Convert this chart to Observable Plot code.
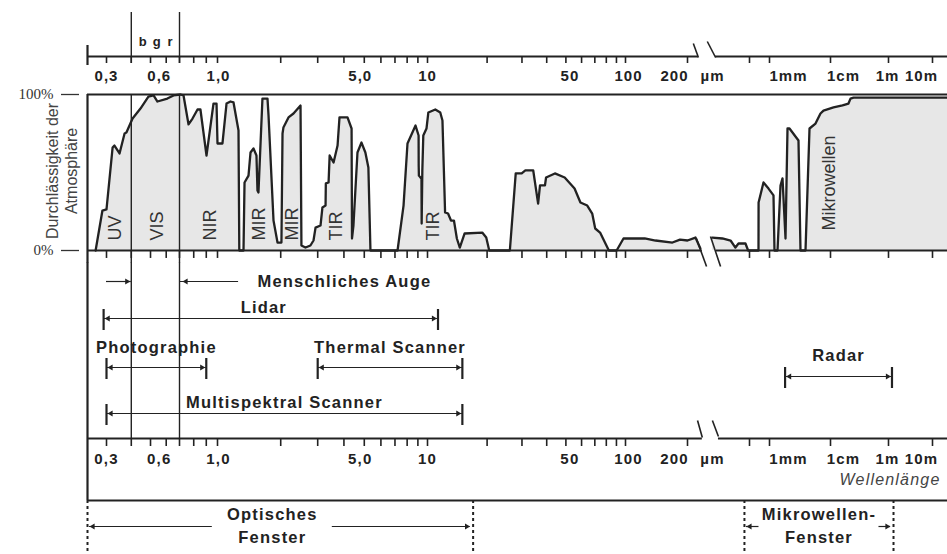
<!DOCTYPE html>
<html><head><meta charset="utf-8">
<script src="https://cdn.jsdelivr.net/npm/d3@7"></script>
<script src="https://cdn.jsdelivr.net/npm/@observablehq/plot@0.6"></script>
<style>
body{margin:0;background:#fff;}
#chart{width:947px;height:554px;overflow:hidden;}
#chart svg{display:block;overflow:visible;}
</style></head><body><div id="chart"></div>
<script>
// ---------- data ----------
const axisTicks = [0.3,0.4,0.5,0.6,0.7,0.8,0.9,1,2,3,4,5,6,7,8,9,10,20,30,40,50,60,70,80,90,100,200,500,1000,1e4,1e6,1e7];
const axisLabels = ["0,3","0,6","1,0","5,0","10","50","100","200","1mm","1cm","1m","10m"];
const axisLabelValues = [0.3,0.6,1,5,10,50,100,200,1000,1e4,1e6,1e7];
const colorBands = ["b","g","r"];
const colorBandCenters = [0.46,0.54,0.63];
const visibleEdges = [0.4,0.7];
const curveWavelength = [0.264,0.286,0.300,0.322,0.329,0.349,0.370,0.378,0.406,0.445,0.488,0.518,0.542,0.608,0.653,0.707,0.727,0.762,0.791,0.829,0.852,0.902,0.963,0.991,1.0,1.056,1.104,1.153,1.192,1.259,1.27,1.33,1.345,1.405,1.436,1.484,1.533,1.550,1.567,1.637,1.730,1.75,1.848,1.931,2.016,2.04,2.06,2.178,2.301,2.485,2.51,2.624,2.77,2.865,2.93,3.094,3.16,3.27,3.28,3.38,3.42,3.57,3.73,3.81,4.16,4.35,4.37,4.44,4.64,4.85,5.06,5.23,5.35,7.20,7.69,8.03,8.77,9.07,9.08,9.1,9.36,9.38,9.45,9.55,9.89,10.1,10.95,11.6,11.9,12.27,12.7,13.14,13.6,14.07,14.56,15.4,18.9,19.8,20.5,26.06,27.9,29.9,31.2,34.2,36.2,37.0,39.2,39.7,44.0,49.3,55.3,59.2,64.1,67.9,70.3,74.4,82.4,90.2,97.7,124,139.8,169,184,200,225,242,260,289,335,378,406,425,471,490,683,685,812,967,1163,1207,1353,1515,1634,1830,1973,2127,2987,3221,3893,4529,5680,6850,7680,12690,25900,41700,48900,62200,2.2e7];
const curveTransmission = [0,25.6,26.3,66,67.3,62.2,75,75.6,84.6,91,98.7,99.4,95.5,97.4,99.4,100,99.4,80.8,84.6,90.4,90.4,60.9,94.2,94.2,68.6,68.6,94.2,95.5,94.9,76.9,0,0,43.6,48,62.8,65.4,60.9,38.5,37.2,97.4,97.4,86.5,19.2,5.1,5.1,75,78.8,85.3,87.8,92.9,3.2,1.9,3.2,6.4,14.7,16,27.6,28.8,43,43.6,60.9,56.4,67.3,85.3,85.3,78.2,7.7,16,62.8,69.2,62.8,53.2,0,0,28.8,68.6,80.1,73.7,54.5,48,46,17.3,51.3,73.7,78.2,88.5,90.4,88.5,83.3,24.4,23.7,19.2,19.2,7.7,1.9,10.9,11.5,8.3,0,0,49.4,49.4,51.3,51.3,30.1,41.7,41.7,46.8,49.4,46.8,39.7,30.8,28.8,23.7,14.1,11.5,0,0,7.7,7.7,6.4,5.1,7,6.4,8.3,1.3,null,8.3,7.7,6.4,1.9,4.5,4.5,0,0,30.8,43.6,39.7,35.3,0,0,41.7,46.2,7.7,78.2,78.2,70.5,0,0,78.2,81.4,87.8,89.7,91.7,93,94.2,97.4,98,98];
const regionLabels = ["UV","VIS","NIR","MIR","MIR","TIR","TIR","Mikrowellen"];
const regionCenters = [0.332,0.542,0.93,1.585,2.27,3.68,10.7,9630];
const instruments = ["Menschliches Auge","Lidar","Photographie","Thermal Scanner","Multispektral Scanner","Radar"];
const instrumentFrom = [0.4,0.29,0.3,3.0,0.3,1800];
const instrumentTo = [0.7,11.3,0.9,15,15,1.2e6];
const windowNames = [["Optisches","Fenster"],["Mikrowellen-","Fenster"]];
const windowFrom = [0.24,464];
const windowTo = [17,1.3e6];

// ---------- scale & layout ----------
const XD = [0.24,0.3,0.7,1,10,100,200,500,1000,1e4,1e6,1e7,2.2e7];
const XR = [87,106,179,217,427,625,687,749,769,830,888,932,947];
const xs = d3.scaleLog().domain(XD).range(XR);
const X = {type:"log", domain: XD, range: XR, axis: null};
const W = 947, INK = "#222", FONT = "'Liberation Sans', Arial, sans-serif";
const xMin = XD[0], xMax = XD[XD.length-1];
const labelShift = {"0,3":0,"0,6":-7,"1,0":1,"5,0":-4,"10":0,"50":4,"100":3,"200":-13,"1mm":19,"1cm":13,"1m":-1,"10m":-11};
const LABEL_SIZE = 16.5;

function layoutPanel(height, marks, extraStyle = {}) {
  return Plot.plot({width: W, height, marginTop:0, marginRight:0, marginBottom:0, marginLeft:0,
    x: X, y: {domain:[0,height], range:[0,height], axis:null},
    style: {fontFamily: FONT, background:"transparent", overflow:"visible", color: INK, ...extraStyle}, marks});
}
function axisLabelMarks(y) {
  return [
    ...axisLabels.map((s,i) => Plot.text([s], {x: axisLabelValues[i], y, dx: labelShift[s], text: d=>d, fontWeight:"bold", fontSize:15, fill: INK})),
    Plot.text(["µm"], {x: 200, y, dx: 25, text: d=>d, fontWeight:"bold", fontSize:15, fill: INK})
  ];
}
const R = 2.2, TIP = 3.4;
function headLeft(x, y, dx = 0) { return Plot.dot([x], {x: d=>d, y, symbol:"triangle", r:R, rotate:-90, dx: TIP + dx, fill: INK, stroke: null}); }
function headRight(x, y, dx = 0) { return Plot.dot([x], {x: d=>d, y, symbol:"triangle", r:R, rotate:90, dx: -TIP + dx, fill: INK, stroke: null}); }

const chart = document.getElementById("chart");

// ---------- panel 1 : top wavelength axis ----------
const p1 = layoutPanel(90, [
  Plot.ruleX(visibleEdges, {x: d=>d, y1: 12, y2: 63, stroke: INK, strokeWidth: 1.4}),
  Plot.text(colorBands, {x: (d,i)=>colorBandCenters[i], y: 41, text: d=>d, fontWeight:"bold", fontSize: 13, fill: INK}),
  Plot.ruleY([56], {x1: xMin, x2: 235, stroke: INK, strokeWidth: 2}),
  Plot.ruleY([56], {x1: 303, x2: xMax, stroke: INK, strokeWidth: 2}),
  Plot.link([0], {x1: 218, y1: 43, x2: 235, y2: 57, stroke: INK, strokeWidth: 1.6}),
  Plot.link([0], {x1: 268, y1: 41, x2: 303, y2: 57, stroke: INK, strokeWidth: 1.6}),
  Plot.ruleX(axisTicks, {x: d=>d, y1: 56, y2: 63, stroke: INK, strokeWidth: 1.6}),
  Plot.ruleX([xMin], {x: d=>d, y1: 45, y2: 65, stroke: INK, strokeWidth: 2.2}),
  ...axisLabelMarks(76)
], {letterSpacing: "1px"});
chart.appendChild(p1);

// ---------- panel 2 : atmospheric transmission ----------
const curve = curveWavelength.map((l,i) => ({l, t: curveTransmission[i]}));
const regions = regionLabels.map((name,i) => ({name, l: regionCenters[i]}));
const p2 = Plot.plot({width: W, height: 172, marginTop: 4, marginBottom: 12, marginLeft: 79, marginRight: 0,
  x: X, y: {domain:[0,100], label: null},
  style: {fontFamily: FONT, background:"transparent", overflow:"visible", color: INK},
  marks: [
    Plot.areaY(curve, {x:"l", y1: 0, y2:"t", fill:"#e7e7e7"}),
    Plot.ruleY([100], {x1: xMin, x2: xMax, stroke: INK, strokeWidth: 2}),
    Plot.ruleY([0], {x1: xMin, x2: 249, stroke: INK, strokeWidth: 2}),
    Plot.ruleY([0], {x1: 307, x2: xMax, stroke: INK, strokeWidth: 2}),
    Plot.ruleX(visibleEdges, {x: d=>d, y1: 100, y2: -8, stroke: INK, strokeWidth: 1.4}),
    Plot.lineY(curve, {x:"l", y:"t", stroke: INK, strokeWidth: 2.3, strokeLinejoin:"round"}),
    Plot.ruleX([xMin], {x: d=>d, y1: 100, y2: -8, stroke: INK, strokeWidth: 2.2}),
    Plot.ruleX(axisTicks, {x: d=>d, y1: 0, y2: -5.1, stroke: INK, strokeWidth: 1.6}),
    Plot.link([0], {x1: 228, y1: 7.7, x2: 265, y2: -10.3, stroke: INK, strokeWidth: 1.6}),
    Plot.link([0], {x1: 281, y1: 9, x2: 326, y2: -10.3, stroke: INK, strokeWidth: 1.6}),
    Plot.text(regions.filter(d => d.name !== "Mikrowellen"), {x:"l", y: 6.4, text:"name", rotate:-90, textAnchor:"start", fontSize: 18, fill:"#333"}),
    Plot.text(regions.filter(d => d.name === "Mikrowellen"), {x:"l", y: 12.8, text:"name", rotate:-90, textAnchor:"start", fontSize: 18, fill:"#333"}),
    Plot.axisY([0,100], {label: null, tickSize: 18, tickPadding: 8, tickFormat: d => d + "%", fontFamily: "'Liberation Serif', serif", fontSize: 15, color: "#333", strokeWidth: 1.3}),
    Plot.text(["Durchlässigkeit der"], {frameAnchor:"left", dx: -27, y: 51, text: d=>d, rotate:-90, textAnchor:"middle", fontSize: 16, fill:"#444"}),
    Plot.text(["Atmosphäre"], {frameAnchor:"left", dx: -8, y: 51, text: d=>d, rotate:-90, textAnchor:"middle", fontSize: 16, fill:"#444"})
  ]});
chart.appendChild(p2);

// ---------- panel 3 : sensors, bottom axis, windows ----------
const rowY = {"Menschliches Auge": 19, "Lidar": 56, "Photographie": 105, "Thermal Scanner": 105, "Multispektral Scanner": 151, "Radar": 114};
const labelLift = {"Lidar": 11, "Photographie": 20, "Thermal Scanner": 20, "Multispektral Scanner": 11, "Radar": 21};
const labelDx = {"Lidar": -7};
const sensorMarks = [];
instruments.forEach((name, i) => {
  const from = instrumentFrom[i], to = instrumentTo[i], y = rowY[name];
  if (name === "Menschliches Auge") {
    sensorMarks.push(
      Plot.ruleY([y], {x1: 0.3, x2: from, stroke: INK, strokeWidth: 1.2}),
      Plot.ruleY([y], {x1: to, x2: 1.26, stroke: INK, strokeWidth: 1.2}),
      headRight(from, y, -1), headLeft(to, y, 3),
      Plot.text([name], {x: 1.55, y, text: d=>d, textAnchor:"start", fontWeight:"bold", fontSize: LABEL_SIZE, fill: INK})
    );
  } else {
    const mid = xs.invert((xs(from) + xs(to)) / 2);
    sensorMarks.push(
      Plot.ruleY([y], {x1: from, x2: to, stroke: INK, strokeWidth: 1.2}),
      Plot.ruleX([from, to], {x: d=>d, y1: y - 9, y2: y + 12, stroke: INK, strokeWidth: 2.2}),
      headLeft(from, y, 1), headRight(to, y, -1),
      Plot.text([name], {x: mid, y: y - labelLift[name], dx: labelDx[name] || 0, text: d=>d, fontWeight:"bold", fontSize: LABEL_SIZE, fill: INK})
    );
  }
});
const windowMarks = [];
windowNames.forEach((lines, i) => {
  const a = xs(windowFrom[i]), b = xs(windowTo[i]);
  const c = (a + b) / 2 + (i === 0 ? -8 : 0);
  windowMarks.push(
    Plot.ruleX([windowFrom[i], windowTo[i]], {x: d=>d, y1: 238, y2: 292, stroke: INK, strokeWidth: 2, strokeDasharray: "3,3"}),
    Plot.ruleY([264], {x1: xs.invert(a + 2), x2: xs.invert(c - 60), stroke: INK, strokeWidth: 1.2}),
    Plot.ruleY([264], {x1: xs.invert(c + 60), x2: xs.invert(b - 3), stroke: INK, strokeWidth: 1.2}),
    headLeft(xs.invert(a + 2), 264), headRight(xs.invert(b - 3), 264),
    Plot.text([lines[0]], {x: xs.invert(c), y: 252, text: d=>d, fontWeight:"bold", fontSize: LABEL_SIZE, fill: INK}),
    Plot.text([lines[1]], {x: xs.invert(c), y: 275, text: d=>d, fontWeight:"bold", fontSize: LABEL_SIZE, fill: INK})
  );
});
const p3 = layoutPanel(292, [
  Plot.ruleX([xMin], {x: d=>d, y1: 0, y2: 238, stroke: INK, strokeWidth: 2.2}),
  Plot.ruleX(visibleEdges, {x: d=>d, y1: 0, y2: 176, stroke: INK, strokeWidth: 1.4}),
  ...sensorMarks,
  Plot.ruleY([176], {x1: xMin, x2: 249, stroke: INK, strokeWidth: 2}),
  Plot.ruleY([176], {x1: 316, x2: xMax, stroke: INK, strokeWidth: 2}),
  Plot.link([0], {x1: 232, y1: 158, x2: 249, y2: 175, stroke: INK, strokeWidth: 1.6}),
  Plot.link([0], {x1: 289, y1: 158, x2: 316, y2: 174, stroke: INK, strokeWidth: 1.6}),
  Plot.ruleX(axisTicks, {x: d=>d, y1: 176, y2: 184, stroke: INK, strokeWidth: 1.6}),
  ...axisLabelMarks(197),
  Plot.text(["Wellenlänge"], {frameAnchor:"right", dx: -7, y: 217, text: d=>d, textAnchor:"end", fontStyle:"italic", fontSize: 16, fill:"#444"}),
  Plot.ruleY([238], {x1: xMin, x2: xMax, stroke: INK, strokeWidth: 2}),
  ...windowMarks
], {letterSpacing: "1.2px"});
chart.appendChild(p3);
</script></body></html>
